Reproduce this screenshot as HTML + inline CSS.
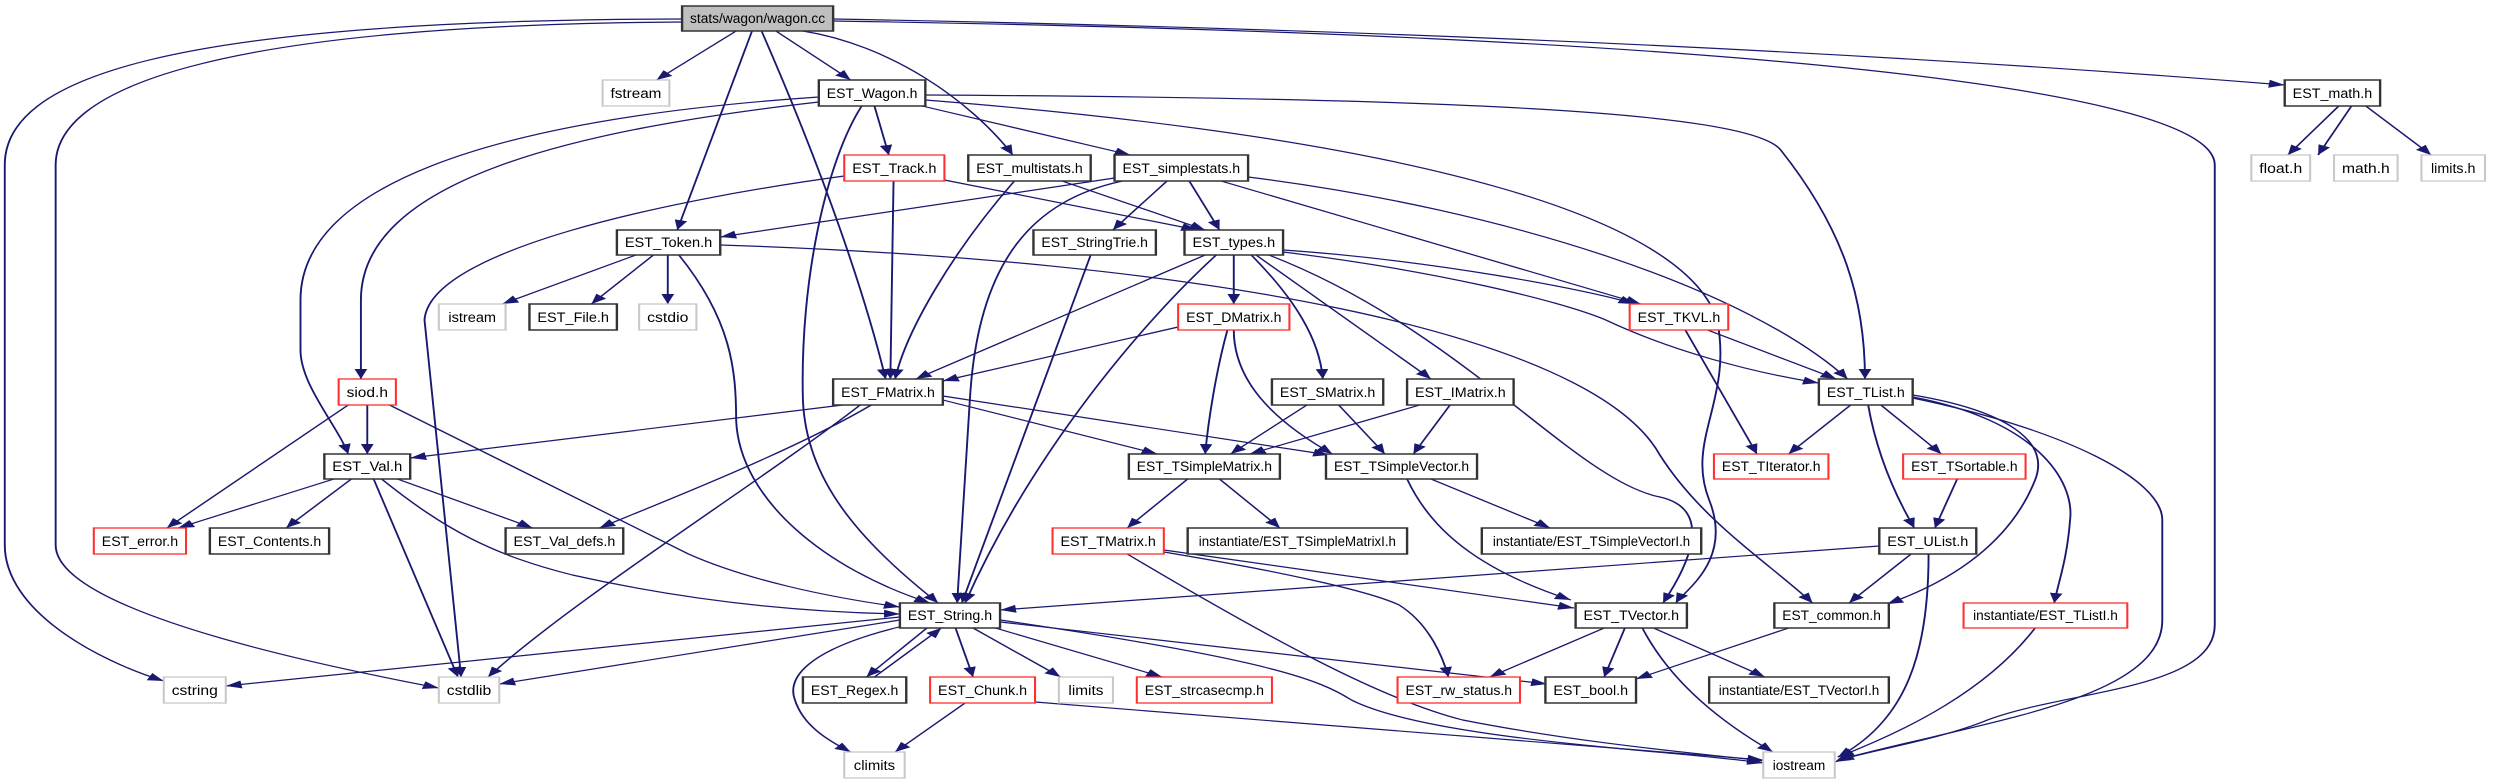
<!DOCTYPE html>
<html><head><meta charset="utf-8"><style>
html,body{margin:0;padding:0;background:#fff;}
svg{display:block;}
text{font-family:"Liberation Sans",sans-serif;font-size:14px;fill:#000;}
.e{fill:none;stroke:#191970;stroke-width:1.2;marker-end:url(#a);}
.n{fill:#fff;stroke:#333;stroke-width:1.5;}
.r{fill:#fff;stroke:#ff3030;stroke-width:1.3;}
.g{fill:#fff;stroke:#c8c8c8;stroke-width:1.3;}
</style></head><body>
<svg width="2493" height="784" viewBox="0 0 1568 784" preserveAspectRatio="none" xmlns="http://www.w3.org/2000/svg">
<defs><marker id="a" markerUnits="userSpaceOnUse" markerWidth="12" markerHeight="10" refX="10" refY="4" orient="auto"><path d="M0,0 L10,4 L0,8 z" fill="#191970"/></marker></defs>
<g>
<path class="e" d="M429,19 C100,20 3,80 3,165 L3,545 C3,610 60,660 103,681"/>
<path class="e" d="M429,22 C130,25 35,90 35,165 L35,545 C35,600 150,650 276,688"/>
<path class="e" d="M463,31 L413,80"/>
<path class="e" d="M473,31 L426,230"/>
<path class="e" d="M479,31 C520,180 545,300 557,379"/>
<path class="e" d="M488,31 L535,80"/>
<path class="e" d="M505,31 C560,45 610,100 637,155"/>
<path class="e" d="M524,19 C900,30 1200,55 1437,85"/>
<path class="e" d="M524,21 C1100,35 1393,90 1393,165 L1393,625 C1393,690 1300,690 1250,720 C1220,740 1170,752 1154,762"/>
<path class="e" d="M515,102 C360,130 227,180 227,300 L227,379"/>
<path class="e" d="M515,97 C300,120 189,190 189,300 L189,350 C189,385 212,425 219,454"/>
<path class="e" d="M550,106 L559,155"/>
<path class="e" d="M542,106 C520,160 503,280 505,400 C507,480 540,540 590,603"/>
<path class="e" d="M580,106 L711,155"/>
<path class="e" d="M582,95 C900,98 1100,110 1120,150 C1160,230 1173,300 1173,379"/>
<path class="e" d="M582,100 C900,140 1060,220 1080,320 C1090,400 1060,440 1075,500 C1090,560 1060,590 1054,603"/>
<path class="e" d="M531,176 C420,200 270,250 267,320 L290,677"/>
<path class="e" d="M562,181 L560,379"/>
<path class="e" d="M594,180 L753,230"/>
<path class="e" d="M638,181 C600,250 570,330 563,379"/>
<path class="e" d="M668,181 L758,230"/>
<path class="e" d="M701,178 L453,237"/>
<path class="e" d="M706,181 C650,200 615,260 610,400 L602,603"/>
<path class="e" d="M734,181 L700,230"/>
<path class="e" d="M748,181 L767,230"/>
<path class="e" d="M768,181 L1032,304"/>
<path class="e" d="M785,177 C950,210 1100,290 1162,379"/>
<path class="e" d="M400,255 L316,304"/>
<path class="e" d="M411,255 L372,304"/>
<path class="e" d="M420,255 L420,304"/>
<path class="e" d="M427,255 C460,320 463,370 463,420 C465,500 520,570 585,603"/>
<path class="e" d="M453,245 C750,260 1000,330 1044,455 C1070,520 1110,560 1140,603"/>
<path class="e" d="M686,255 L605,603"/>
<path class="e" d="M758,255 L576,379"/>
<path class="e" d="M765,255 C720,320 650,450 607,603"/>
<path class="e" d="M776,255 L776,304"/>
<path class="e" d="M787,255 C815,300 830,340 832,379"/>
<path class="e" d="M790,255 L900,379"/>
<path class="e" d="M807,250 C900,260 1000,290 1028,304"/>
<path class="e" d="M807,252 C900,270 980,300 1010,320 C1050,350 1100,372 1144,383"/>
<path class="e" d="M798,255 C920,330 990,480 1044,497 C1080,510 1060,570 1046,603"/>
<path class="e" d="M741,327 L593,381"/>
<path class="e" d="M772,330 C765,370 760,420 758,454"/>
<path class="e" d="M776,330 C776,380 800,420 838,454"/>
<path class="e" d="M822,405 L774,454"/>
<path class="e" d="M842,405 L871,454"/>
<path class="e" d="M893,405 L786,454"/>
<path class="e" d="M912,405 L889,454"/>
<path class="e" d="M530,405 L258,458"/>
<path class="e" d="M548,405 C500,450 420,500 377,528"/>
<path class="e" d="M541,405 C480,480 360,600 307,677"/>
<path class="e" d="M593,400 L728,454"/>
<path class="e" d="M593,396 L836,455"/>
<path class="e" d="M219,405 L105,528"/>
<path class="e" d="M231,405 L231,454"/>
<path class="e" d="M245,405 L433,554 C470,580 520,597 566,607"/>
<path class="e" d="M210,479 L112,528"/>
<path class="e" d="M221,479 L180,528"/>
<path class="e" d="M235,479 L288,677"/>
<path class="e" d="M240,479 C280,530 310,555 360,575 C430,600 500,612 566,614"/>
<path class="e" d="M250,479 L335,528"/>
<path class="e" d="M566,617 L142,686"/>
<path class="e" d="M566,620 L314,684"/>
<path class="e" d="M583,628 L545,677"/>
<path class="e" d="M550,677 L592,628"/>
<path class="e" d="M601,628 L612,677"/>
<path class="e" d="M612,628 L667,677"/>
<path class="e" d="M626,628 L731,677"/>
<path class="e" d="M629,622 L973,684"/>
<path class="e" d="M629,620 C800,660 830,680 850,700 C900,740 1050,750 1109,763"/>
<path class="e" d="M568,626 C505,650 495,680 500,700 C505,725 520,740 535,752"/>
<path class="e" d="M607,703 L563,752"/>
<path class="e" d="M651,702 L1109,760"/>
<path class="e" d="M747,479 L709,528"/>
<path class="e" d="M767,479 L805,528"/>
<path class="e" d="M900,479 L975,528"/>
<path class="e" d="M885,479 C900,530 930,570 988,600"/>
<path class="e" d="M709,554 C800,640 870,700 920,720 C1000,745 1080,755 1109,761"/>
<path class="e" d="M732,552 C800,570 860,590 880,605 C900,625 908,660 911,677"/>
<path class="e" d="M732,550 L990,608"/>
<path class="e" d="M1009,628 L937,677"/>
<path class="e" d="M1022,628 L1009,677"/>
<path class="e" d="M1125,628 L1029,679"/>
<path class="e" d="M1040,628 L1110,677"/>
<path class="e" d="M1033,628 C1050,680 1080,720 1115,752"/>
<path class="e" d="M1182,546 L629,610"/>
<path class="e" d="M1202,554 L1163,603"/>
<path class="e" d="M1213,554 C1213,650 1200,720 1156,757"/>
<path class="e" d="M1164,405 L1125,454"/>
<path class="e" d="M1183,405 L1221,454"/>
<path class="e" d="M1175,405 C1180,450 1190,490 1204,528"/>
<path class="e" d="M1203,395 C1260,410 1290,440 1280,480 C1265,540 1230,580 1187,604"/>
<path class="e" d="M1203,397 C1280,420 1305,480 1302,520 C1300,560 1295,580 1292,603"/>
<path class="e" d="M1203,398 C1300,430 1360,480 1360,520 L1360,620 C1360,700 1250,720 1156,760"/>
<path class="e" d="M1280,628 C1250,690 1200,730 1156,757"/>
<path class="e" d="M1231,479 L1217,528"/>
<path class="e" d="M1074,330 L1155,379"/>
<path class="e" d="M1060,330 L1105,454"/>
<path class="e" d="M1479,106 L1458,155"/>
<path class="e" d="M1471,106 L1439,155"/>
<path class="e" d="M1488,106 L1529,155"/>
</g>
<g>
<rect x="429" y="6" width="95" height="25" style="fill:#bfbfbf;stroke:#333;stroke-width:1.5"/><text x="476.5" y="23" text-anchor="middle" textLength="85" lengthAdjust="spacingAndGlyphs">stats/wagon/wagon.cc</text>
<rect class="g" x="379" y="80" width="42" height="26"/><text x="400" y="98" text-anchor="middle" textLength="32" lengthAdjust="spacingAndGlyphs">fstream</text>
<rect class="n" x="515" y="80" width="67" height="26"/><text x="548.5" y="98" text-anchor="middle" textLength="57" lengthAdjust="spacingAndGlyphs">EST_Wagon.h</text>
<rect class="n" x="1437" y="80" width="60" height="26"/><text x="1467" y="98" text-anchor="middle" textLength="50" lengthAdjust="spacingAndGlyphs">EST_math.h</text>
<rect class="r" x="531" y="155" width="63" height="26"/><text x="562.5" y="173" text-anchor="middle" textLength="53" lengthAdjust="spacingAndGlyphs">EST_Track.h</text>
<rect class="n" x="609" y="155" width="77" height="26"/><text x="647.5" y="173" text-anchor="middle" textLength="67" lengthAdjust="spacingAndGlyphs">EST_multistats.h</text>
<rect class="n" x="701" y="155" width="84" height="26"/><text x="743" y="173" text-anchor="middle" textLength="74" lengthAdjust="spacingAndGlyphs">EST_simplestats.h</text>
<rect class="g" x="1416" y="155" width="37" height="26"/><text x="1434.5" y="173" text-anchor="middle" textLength="27" lengthAdjust="spacingAndGlyphs">float.h</text>
<rect class="g" x="1468" y="155" width="40" height="26"/><text x="1488" y="173" text-anchor="middle" textLength="30" lengthAdjust="spacingAndGlyphs">math.h</text>
<rect class="g" x="1523" y="155" width="40" height="26"/><text x="1543" y="173" text-anchor="middle" textLength="28" lengthAdjust="spacingAndGlyphs">limits.h</text>
<rect class="n" x="388" y="230" width="65" height="25"/><text x="420.5" y="247" text-anchor="middle" textLength="55" lengthAdjust="spacingAndGlyphs">EST_Token.h</text>
<rect class="n" x="650" y="230" width="77" height="25"/><text x="688.5" y="247" text-anchor="middle" textLength="67" lengthAdjust="spacingAndGlyphs">EST_StringTrie.h</text>
<rect class="n" x="745" y="230" width="62" height="25"/><text x="776" y="247" text-anchor="middle" textLength="52" lengthAdjust="spacingAndGlyphs">EST_types.h</text>
<rect class="g" x="276" y="304" width="42" height="26"/><text x="297" y="322" text-anchor="middle" textLength="30" lengthAdjust="spacingAndGlyphs">istream</text>
<rect class="n" x="333" y="304" width="55" height="26"/><text x="360.5" y="322" text-anchor="middle" textLength="45" lengthAdjust="spacingAndGlyphs">EST_File.h</text>
<rect class="g" x="402" y="304" width="36" height="26"/><text x="420" y="322" text-anchor="middle" textLength="26" lengthAdjust="spacingAndGlyphs">cstdio</text>
<rect class="r" x="741" y="304" width="70" height="26"/><text x="776" y="322" text-anchor="middle" textLength="60" lengthAdjust="spacingAndGlyphs">EST_DMatrix.h</text>
<rect class="r" x="1025" y="304" width="62" height="26"/><text x="1056" y="322" text-anchor="middle" textLength="52" lengthAdjust="spacingAndGlyphs">EST_TKVL.h</text>
<rect class="r" x="213" y="379" width="36" height="26"/><text x="231" y="397" text-anchor="middle" textLength="26" lengthAdjust="spacingAndGlyphs">siod.h</text>
<rect class="n" x="524" y="379" width="69" height="26"/><text x="558.5" y="397" text-anchor="middle" textLength="59" lengthAdjust="spacingAndGlyphs">EST_FMatrix.h</text>
<rect class="n" x="800" y="379" width="70" height="26"/><text x="835" y="397" text-anchor="middle" textLength="60" lengthAdjust="spacingAndGlyphs">EST_SMatrix.h</text>
<rect class="n" x="885" y="379" width="67" height="26"/><text x="918.5" y="397" text-anchor="middle" textLength="57" lengthAdjust="spacingAndGlyphs">EST_IMatrix.h</text>
<rect class="n" x="1144" y="379" width="59" height="26"/><text x="1173.5" y="397" text-anchor="middle" textLength="49" lengthAdjust="spacingAndGlyphs">EST_TList.h</text>
<rect class="n" x="204" y="454" width="54" height="25"/><text x="231" y="471" text-anchor="middle" textLength="44" lengthAdjust="spacingAndGlyphs">EST_Val.h</text>
<rect class="n" x="710" y="454" width="95" height="25"/><text x="757.5" y="471" text-anchor="middle" textLength="85" lengthAdjust="spacingAndGlyphs">EST_TSimpleMatrix.h</text>
<rect class="n" x="834" y="454" width="95" height="25"/><text x="881.5" y="471" text-anchor="middle" textLength="85" lengthAdjust="spacingAndGlyphs">EST_TSimpleVector.h</text>
<rect class="r" x="1078" y="454" width="72" height="25"/><text x="1114" y="471" text-anchor="middle" textLength="62" lengthAdjust="spacingAndGlyphs">EST_TIterator.h</text>
<rect class="r" x="1197" y="454" width="77" height="25"/><text x="1235.5" y="471" text-anchor="middle" textLength="67" lengthAdjust="spacingAndGlyphs">EST_TSortable.h</text>
<rect class="r" x="59" y="528" width="58" height="26"/><text x="88" y="546" text-anchor="middle" textLength="48" lengthAdjust="spacingAndGlyphs">EST_error.h</text>
<rect class="n" x="132" y="528" width="75" height="26"/><text x="169.5" y="546" text-anchor="middle" textLength="65" lengthAdjust="spacingAndGlyphs">EST_Contents.h</text>
<rect class="n" x="318" y="528" width="74" height="26"/><text x="355" y="546" text-anchor="middle" textLength="64" lengthAdjust="spacingAndGlyphs">EST_Val_defs.h</text>
<rect class="r" x="662" y="528" width="70" height="26"/><text x="697" y="546" text-anchor="middle" textLength="60" lengthAdjust="spacingAndGlyphs">EST_TMatrix.h</text>
<rect class="n" x="747" y="528" width="138" height="26"/><text x="816" y="546" text-anchor="middle" textLength="124" lengthAdjust="spacingAndGlyphs">instantiate/EST_TSimpleMatrixI.h</text>
<rect class="n" x="932" y="528" width="138" height="26"/><text x="1001" y="546" text-anchor="middle" textLength="124" lengthAdjust="spacingAndGlyphs">instantiate/EST_TSimpleVectorI.h</text>
<rect class="n" x="1182" y="528" width="61" height="26"/><text x="1212.5" y="546" text-anchor="middle" textLength="51" lengthAdjust="spacingAndGlyphs">EST_UList.h</text>
<rect class="n" x="566" y="603" width="63" height="25"/><text x="597.5" y="620" text-anchor="middle" textLength="53" lengthAdjust="spacingAndGlyphs">EST_String.h</text>
<rect class="n" x="991" y="603" width="70" height="25"/><text x="1026" y="620" text-anchor="middle" textLength="60" lengthAdjust="spacingAndGlyphs">EST_TVector.h</text>
<rect class="n" x="1116" y="603" width="72" height="25"/><text x="1152" y="620" text-anchor="middle" textLength="62" lengthAdjust="spacingAndGlyphs">EST_common.h</text>
<rect class="r" x="1235" y="603" width="103" height="25"/><text x="1286.5" y="620" text-anchor="middle" textLength="91" lengthAdjust="spacingAndGlyphs">instantiate/EST_TListI.h</text>
<rect class="g" x="103" y="677" width="39" height="26"/><text x="122.5" y="695" text-anchor="middle" textLength="29" lengthAdjust="spacingAndGlyphs">cstring</text>
<rect class="g" x="276" y="677" width="38" height="26"/><text x="295" y="695" text-anchor="middle" textLength="28" lengthAdjust="spacingAndGlyphs">cstdlib</text>
<rect class="n" x="505" y="677" width="65" height="26"/><text x="537.5" y="695" text-anchor="middle" textLength="55" lengthAdjust="spacingAndGlyphs">EST_Regex.h</text>
<rect class="r" x="585" y="677" width="66" height="26"/><text x="618" y="695" text-anchor="middle" textLength="56" lengthAdjust="spacingAndGlyphs">EST_Chunk.h</text>
<rect class="g" x="666" y="677" width="34" height="26"/><text x="683" y="695" text-anchor="middle" textLength="22" lengthAdjust="spacingAndGlyphs">limits</text>
<rect class="r" x="715" y="677" width="85" height="26"/><text x="757.5" y="695" text-anchor="middle" textLength="75" lengthAdjust="spacingAndGlyphs">EST_strcasecmp.h</text>
<rect class="r" x="879" y="677" width="77" height="26"/><text x="917.5" y="695" text-anchor="middle" textLength="67" lengthAdjust="spacingAndGlyphs">EST_rw_status.h</text>
<rect class="n" x="972" y="677" width="57" height="26"/><text x="1000.5" y="695" text-anchor="middle" textLength="47" lengthAdjust="spacingAndGlyphs">EST_bool.h</text>
<rect class="n" x="1075" y="677" width="113" height="26"/><text x="1131.5" y="695" text-anchor="middle" textLength="101" lengthAdjust="spacingAndGlyphs">instantiate/EST_TVectorI.h</text>
<rect class="g" x="531" y="752" width="38" height="26"/><text x="550" y="770" text-anchor="middle" textLength="26" lengthAdjust="spacingAndGlyphs">climits</text>
<rect class="g" x="1109" y="752" width="45" height="26"/><text x="1131.5" y="770" text-anchor="middle" textLength="33" lengthAdjust="spacingAndGlyphs">iostream</text>
</g>
</svg>
</body></html>
